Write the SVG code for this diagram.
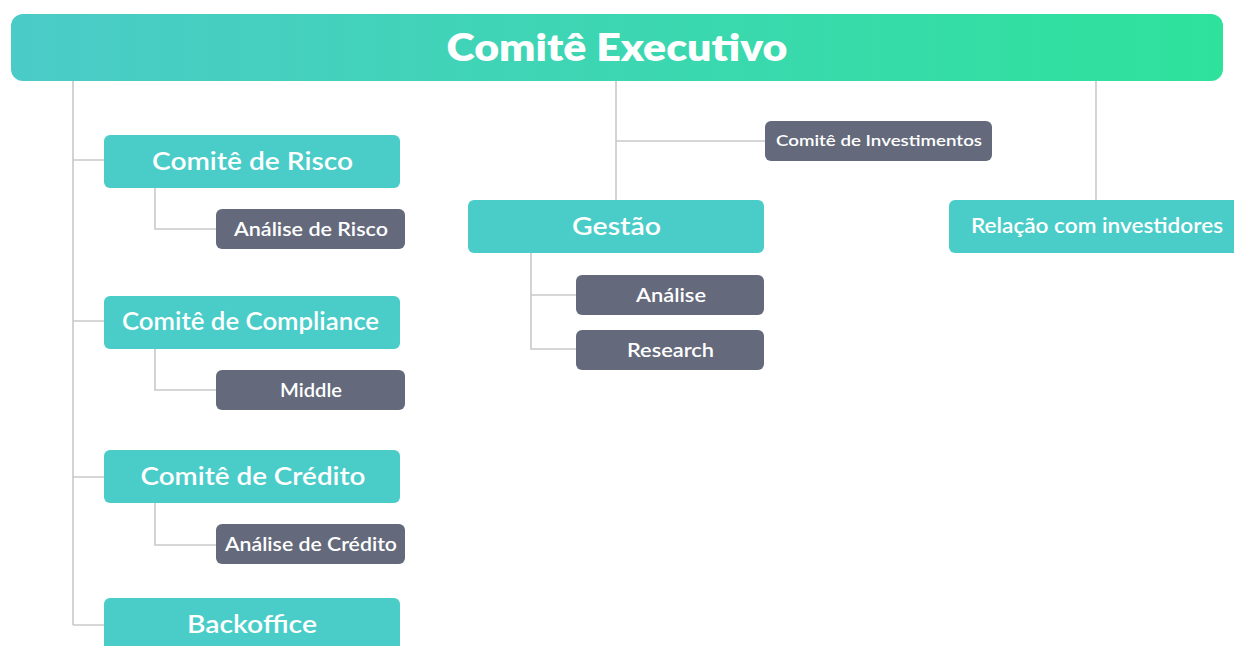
<svg xmlns="http://www.w3.org/2000/svg" width="1234" height="646" viewBox="0 0 1234 646">
<defs>
<linearGradient id="topg" x1="0" y1="0" x2="1" y2="0">
<stop offset="0" stop-color="#4BCBC8"/>
<stop offset="1" stop-color="#2EE29C"/>
</linearGradient>
</defs>
<style>
.t{fill:#4ACDC9}
.d{fill:#646A7B}
.c{stroke:#C9C9C9;stroke-width:1.6;fill:none}
text{font-family:Lato,"Open Sans","Liberation Sans",sans-serif;fill:#FFFFFF;text-anchor:middle;dominant-baseline:central}
.tl{font-size:25.5px;font-weight:600}
.dl{font-size:19px;font-weight:600}
.sl{font-size:16px;font-weight:600}
</style>
<rect width="1234" height="646" fill="#FFFFFF"/>
<g id="connectors">
<path class="c" d="M73 81V625M73 160H104M73 321H104M73 477H104M73 625H104"/>
<path class="c" d="M155 188V229H216M155 349V390H216M155 503V545H216"/>
<path class="c" d="M616 81V200M616 141H765"/>
<path class="c" d="M531 253V349H576M531 295H576"/>
<path class="c" d="M1096 81V200"/>
</g>
<g id="comite-executivo">
<rect x="11" y="14" width="1212" height="67" rx="12" fill="url(#topg)"/>
<text x="617" y="46" textLength="341" lengthAdjust="spacingAndGlyphs" style="font-size:38px;font-weight:800">Comitê Executivo</text>
</g>
<g id="comite-risco">
<rect class="t" x="104" y="135" width="296" height="53" rx="6"/>
<text class="tl" x="252.5" y="159.5" textLength="201" lengthAdjust="spacingAndGlyphs">Comitê de Risco</text>
</g>
<g id="analise-risco">
<rect class="d" x="216" y="209" width="189" height="40" rx="6"/>
<text class="dl" x="311" y="228" textLength="154" lengthAdjust="spacingAndGlyphs">Análise de Risco</text>
</g>
<g id="comite-compliance">
<rect class="t" x="104" y="296" width="296" height="53" rx="6"/>
<text class="tl" x="250.5" y="320" textLength="257" lengthAdjust="spacingAndGlyphs">Comitê de Compliance</text>
</g>
<g id="middle">
<rect class="d" x="216" y="370" width="189" height="40" rx="6"/>
<text class="dl" x="311" y="389" textLength="62" lengthAdjust="spacingAndGlyphs">Middle</text>
</g>
<g id="comite-credito">
<rect class="t" x="104" y="450" width="296" height="53" rx="6"/>
<text class="tl" x="253" y="474.5" textLength="225" lengthAdjust="spacingAndGlyphs">Comitê de Crédito</text>
</g>
<g id="analise-credito">
<rect class="d" x="216" y="524" width="189" height="40" rx="6"/>
<text class="dl" x="311" y="543.5" textLength="172" lengthAdjust="spacingAndGlyphs">Análise de Crédito</text>
</g>
<g id="backoffice">
<rect class="t" x="104" y="598" width="296" height="60" rx="6"/>
<text class="tl" x="252" y="622.5" textLength="130" lengthAdjust="spacingAndGlyphs">Backoffice</text>
</g>
<g id="comite-investimentos">
<rect class="d" x="765" y="121" width="227" height="40" rx="6"/>
<text class="sl" x="879" y="139.5" textLength="206" lengthAdjust="spacingAndGlyphs">Comitê de Investimentos</text>
</g>
<g id="gestao">
<rect class="t" x="468" y="200" width="296" height="53" rx="6"/>
<text class="tl" x="616.5" y="225" textLength="89" lengthAdjust="spacingAndGlyphs">Gestão</text>
</g>
<g id="analise">
<rect class="d" x="576" y="275" width="188" height="40" rx="6"/>
<text class="dl" x="671" y="294" textLength="70" lengthAdjust="spacingAndGlyphs">Análise</text>
</g>
<g id="research">
<rect class="d" x="576" y="330" width="188" height="40" rx="6"/>
<text class="dl" x="670.5" y="349" textLength="87" lengthAdjust="spacingAndGlyphs">Research</text>
</g>
<g id="relacao-investidores">
<rect class="t" x="949" y="200" width="296" height="53" rx="6"/>
<text x="1097" y="225" textLength="252" lengthAdjust="spacingAndGlyphs" style="font-size:20.5px;font-weight:600">Relação com investidores</text>
</g>
</svg>
